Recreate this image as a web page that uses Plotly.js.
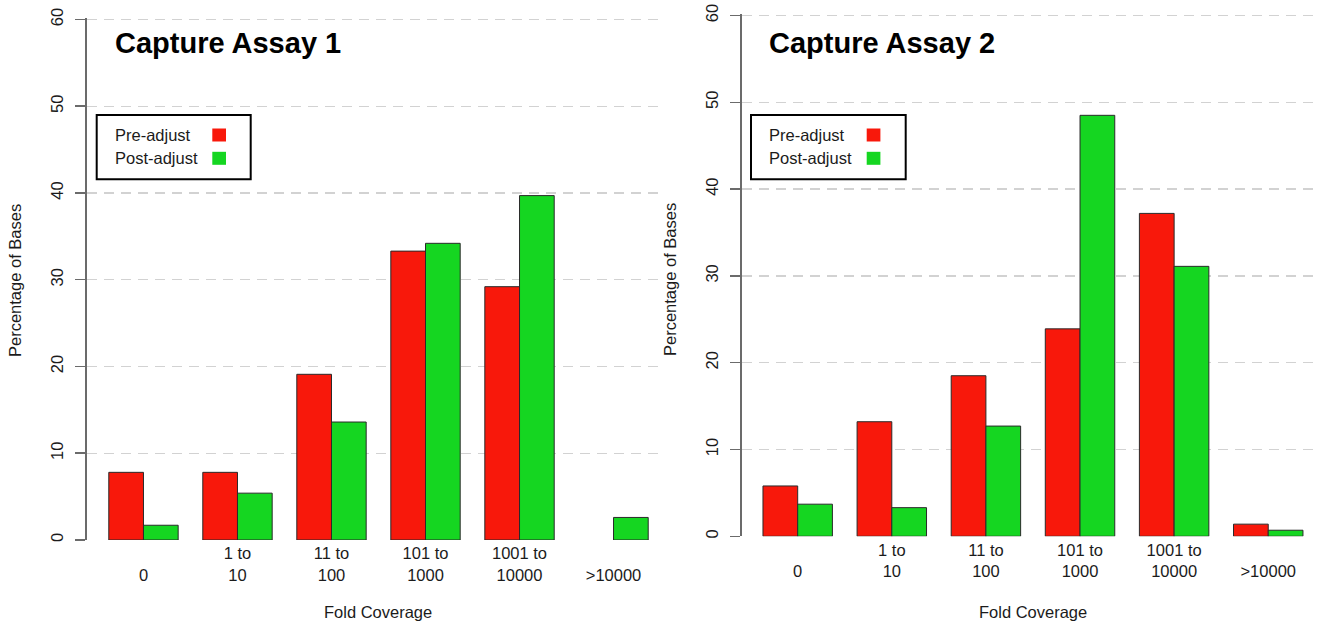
<!DOCTYPE html>
<html>
<head>
<meta charset="utf-8">
<script src="https://cdn.plot.ly/plotly-3.0.1.min.js"></script>
<style>
  html, body { margin: 0; padding: 0; background: #ffffff; }
  #chart { width: 1323px; height: 624px; }
</style>
</head>
<body>
<div id="chart"></div>
<script>
// Coverage bins and their two-line tick labels
const categories = ['0', '1 to 10', '11 to 100', '101 to 1000', '1001 to 10000', '>10000'];
const tickLabels = ['\u00a0<br>0', '1 to<br>10', '11 to<br>100', '101 to<br>1000', '1001 to<br>10000', '\u00a0<br>>10000'];

// Percentage of bases per bin
const assay1Pre  = [7.8, 7.8, 19.1, 33.3, 29.2, 0];
const assay1Post = [1.7, 5.4, 13.6, 34.2, 39.7, 2.6];
const assay2Pre  = [5.8, 13.2, 18.5, 23.9, 37.2, 1.4];
const assay2Post = [3.7, 3.3, 12.7, 48.5, 31.1, 0.7];

const seriesNames = ['Pre-adjust', 'Post-adjust'];
const panelTitles = ['Capture Assay 1', 'Capture Assay 2'];
const yTicks = [0, 10, 20, 30, 40, 50, 60];

const W = 1323, H = 624;
const px = x => x / W;
const py = y => 1 - y / H;

const RED = '#f8180b';
const GREEN = '#15d621';
const FONT = 'Liberation Sans, Arial, Helvetica, sans-serif';
const TEXT = '#1b1b1b';

function barTrace(vals, name, color, xa, ya) {
  return {
    type: 'bar', x: categories, y: vals, name: name,
    xaxis: xa, yaxis: ya, showlegend: false,
    // empty bins get no outline
    marker: { color: color, line: { color: '#2a2a2a', width: vals.map(v => v > 0 ? 1 : 0) } },
    hoverinfo: 'x+y+name'
  };
}

const data = [
  barTrace(assay1Pre,  seriesNames[0], RED,   'x',  'y'),
  barTrace(assay1Post, seriesNames[1], GREEN, 'x',  'y'),
  barTrace(assay2Pre,  seriesNames[0], RED,   'x2', 'y2'),
  barTrace(assay2Post, seriesNames[1], GREEN, 'x2', 'y2')
];

function xAxis(domain, range) {
  return {
    domain: domain, range: range, type: 'category',
    categoryorder: 'array', categoryarray: categories,
    tickvals: categories, ticktext: tickLabels,
    showline: false, showgrid: false, zeroline: false, ticks: '',
    ticklabelstandoff: 2,
    tickfont: { family: FONT, size: 16.5, color: TEXT },
    fixedrange: true
  };
}

// y range runs a hair past 60 so the top grid line stays visible
function yAxis(domain, anchor) {
  return {
    domain: domain, range: [0, 60.15], anchor: anchor,
    tickvals: yTicks, tickangle: -90,
    showline: true, linecolor: '#6b6b6b', linewidth: 1.5,
    ticks: 'outside', ticklen: 10, tickwidth: 1.5, tickcolor: '#6b6b6b',
    ticklabelstandoff: 6,
    showgrid: true, gridcolor: '#d2d2d2', gridwidth: 1.3, griddash: '10px,7px',
    zeroline: false,
    tickfont: { family: FONT, size: 16.5, color: TEXT },
    fixedrange: true
  };
}

// legend box geometry (pixels) for each panel
const legendBoxes = [
  { x0: 96.7, x1: 250.7, y0: 115, y1: 179.3, textX: 112.7, swX: 212.3 },
  { x0: 751,  x1: 905.7, y0: 115, y1: 179.3, textX: 766.7, swX: 866.7 }
];
const legendRows = [135, 158.3];
const swatchColors = [RED, GREEN];

const shapes = [];
const annotations = [];

legendBoxes.forEach(b => {
  shapes.push({
    type: 'rect', xref: 'paper', yref: 'paper',
    x0: px(b.x0), x1: px(b.x1), y0: py(b.y0), y1: py(b.y1),
    line: { color: '#000', width: 2 }, fillcolor: '#fff', layer: 'above'
  });
  legendRows.forEach((ry, i) => {
    shapes.push({
      type: 'rect', xref: 'paper', yref: 'paper',
      x0: px(b.swX), x1: px(b.swX + 13.7), y0: py(ry - 6.5), y1: py(ry + 6.5),
      line: { width: 0 }, fillcolor: swatchColors[i], layer: 'above'
    });
    annotations.push({
      xref: 'paper', yref: 'paper', x: px(b.textX), y: py(ry),
      xanchor: 'left', yanchor: 'middle', showarrow: false,
      text: seriesNames[i], font: { family: FONT, size: 16.5, color: TEXT }
    });
  });
});

// panel titles
[[113, 43], [767, 43]].forEach((p, i) => {
  annotations.push({
    xref: 'paper', yref: 'paper', x: px(p[0]), y: py(p[1]),
    xanchor: 'left', yanchor: 'middle', showarrow: false,
    text: panelTitles[i], font: { family: FONT, size: 29, color: '#000', weight: 700 }
  });
});

// axis titles
[[378, 612], [1033, 612]].forEach(p => {
  annotations.push({
    xref: 'paper', yref: 'paper', x: px(p[0]), y: py(p[1]),
    xanchor: 'center', yanchor: 'middle', showarrow: false,
    text: 'Fold Coverage', font: { family: FONT, size: 16.5, color: TEXT }
  });
});
[[15, 281], [670, 280]].forEach(p => {
  annotations.push({
    xref: 'paper', yref: 'paper', x: px(p[0]), y: py(p[1]),
    xanchor: 'center', yanchor: 'middle', showarrow: false, textangle: -90,
    text: 'Percentage of Bases', font: { family: FONT, size: 16.5, color: TEXT }
  });
});

const layout = {
  width: W, height: H,
  margin: { l: 0, r: 0, t: 0, b: 0 },
  paper_bgcolor: '#fff', plot_bgcolor: 'rgba(0,0,0,0)',
  barmode: 'group', bargap: 0.262, bargroupgap: 0,
  xaxis:  xAxis([0.06553, 0.49735], [-0.604, 5.473]),
  yaxis:  yAxis([0.13462, 0.97084], 'x'),
  xaxis2: xAxis([0.56062, 0.99773], [-0.595, 5.55]),
  yaxis2: yAxis([0.14054, 0.97725], 'x2'),
  shapes: shapes,
  annotations: annotations,
  font: { family: FONT }
};
layout.xaxis.anchor = 'y';
layout.xaxis2.anchor = 'y2';

Plotly.newPlot('chart', data, layout, { displayModeBar: false, staticPlot: true });
</script>
</body>
</html>
